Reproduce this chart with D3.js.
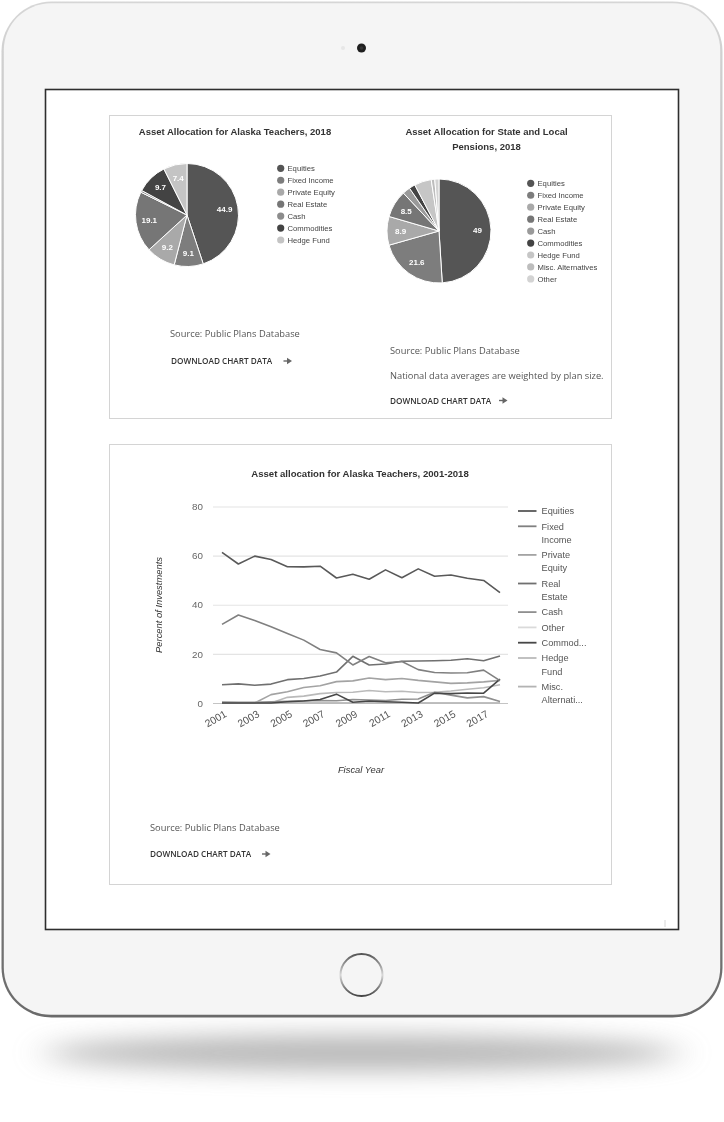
<!DOCTYPE html>
<html>
<head>
<meta charset="utf-8">
<script src="https://cdn.jsdelivr.net/npm/d3@7"></script>
<style>
  html, body { margin: 0; padding: 0; background: #fff; }
  svg { display: block; filter: grayscale(1); }
  .chart { font-family: "Liberation Sans", Arial, sans-serif; }
  .note { font-family: "Open Sans", sans-serif; fill: #555; font-size: 9.3px; }
  .dl { font-family: "Open Sans", sans-serif; fill: #333; font-size: 8.2px; font-weight: 600; }
</style>
</head>
<body>
<svg id="page" width="724" height="1122"></svg>
<script>
// --- Data ---
const alaskaLabels = ["Equities", "Fixed Income", "Private Equity", "Real Estate", "Cash", "Commodities", "Hedge Fund"];
const alaskaShares = [44.9, 9.1, 9.2, 19.1, 0.6, 9.7, 7.4];

const nationalLabels = ["Equities", "Fixed Income", "Private Equity", "Real Estate", "Cash", "Commodities", "Hedge Fund", "Misc. Alternatives", "Other"];
const nationalShares = [49, 21.6, 8.9, 8.5, 2.4, 1.9, 5.3, 1.1, 1.3];

const years = [2001, 2002, 2003, 2004, 2005, 2006, 2007, 2008, 2009, 2010, 2011, 2012, 2013, 2014, 2015, 2016, 2017, 2018];
const yearTicks = [2001, 2003, 2005, 2007, 2009, 2011, 2013, 2015, 2017];
const percentTicks = [0, 20, 40, 60, 80];

const equities        = [61.3, 56.6, 59.8, 58.4, 55.5, 55.4, 55.7, 50.9, 52.4, 50.4, 54.2, 51.0, 54.6, 51.6, 52.1, 50.8, 49.9, 44.9];
const fixedIncome     = [32.0, 35.8, 33.6, 31.0, 28.3, 25.6, 21.8, 20.4, 15.5, 18.9, 16.4, 16.9, 13.6, 12.4, 12.2, 12.3, 13.4, 9.1];
const privateEquity   = [0, 0, 0, 3.4, 4.6, 6.3, 7.0, 8.7, 9.0, 10.2, 9.5, 10.0, 9.2, 8.6, 8.0, 8.2, 8.6, 9.2];
const realEstate      = [7.4, 7.8, 7.2, 7.7, 9.5, 10.0, 11.0, 12.6, 19.0, 15.5, 15.9, 17.0, 17.1, 17.2, 17.4, 18.0, 17.2, 19.1];
const cash            = [0.4, 0.3, 0.3, 0.5, 0.7, 0.9, 1.0, 0.9, 1.4, 1.2, 1.0, 1.5, 1.6, 4.4, 3.2, 2.1, 2.6, 0.6];
const other           = [0, 0, 0, 0, 0, 0, 0, 0, 0, 0, 0, 0, 0, 0, 0, 0, 0, 0];
const commodities     = [0, 0, 0, 0, 0.5, 0.8, 1.4, 3.6, 0.3, 0.8, 0.5, 0.3, 0, 4.0, 3.8, 4.1, 4.0, 9.7];
const hedgeFund       = [0, 0, 0, 0, 2.3, 2.8, 3.8, 4.3, 4.4, 5.1, 4.6, 4.8, 4.3, 4.4, 4.9, 5.6, 6.2, 7.4];
const miscAlternatives = [0, 0, 0, 0, 0, 0, 0, 0, 0, 0, 0, 0, 0, 0, 0, 0, 0, 0];

const seriesNames = ["Equities", "Fixed Income", "Private Equity", "Real Estate", "Cash", "Other", "Commodities", "Hedge Fund", "Misc. Alternatives"];
const seriesLegend = [["Equities"], ["Fixed", "Income"], ["Private", "Equity"], ["Real", "Estate"], ["Cash"], ["Other"], ["Commod..."], ["Hedge", "Fund"], ["Misc.", "Alternati..."]];
const seriesValues = [equities, fixedIncome, privateEquity, realEstate, cash, other, commodities, hedgeFund, miscAlternatives];

// --- Styles ---
const alaskaColors = ["#555555", "#7d7d7d", "#a9a9a9", "#767676", "#8c8c8c", "#434343", "#c4c4c4"];
const nationalColors = ["#555555", "#7d7d7d", "#a9a9a9", "#767676", "#9a9a9a", "#434343", "#c6c6c6", "#bdbdbd", "#d3d3d3"];
const lineColors = ["#595959", "#808080", "#a3a3a3", "#707070", "#8f8f8f", "#dadada", "#474747", "#bababa", "#b3b3b3"];

const svg = d3.select("#page");
const defs = svg.append("defs");

// --- Tablet frame ---
const blur = defs.append("filter").attr("id", "blur").attr("x", "-30%").attr("y", "-300%").attr("width", "160%").attr("height", "700%");
blur.append("feGaussianBlur").attr("stdDeviation", "18 12");

const rim = defs.append("linearGradient").attr("id", "rim").attr("x1", 0).attr("y1", 0).attr("x2", 0).attr("y2", 1);
rim.append("stop").attr("offset", 0).attr("stop-color", "#d4d6d8");
rim.append("stop").attr("offset", 0.5).attr("stop-color", "#a2a2a2");
rim.append("stop").attr("offset", 1).attr("stop-color", "#6a6a6a");

const ring = defs.append("linearGradient").attr("id", "ring").attr("x1", 0).attr("y1", 0).attr("x2", 0).attr("y2", 1);
ring.append("stop").attr("offset", 0).attr("stop-color", "#555");
ring.append("stop").attr("offset", 0.5).attr("stop-color", "#d8d8d8");
ring.append("stop").attr("offset", 1).attr("stop-color", "#444");

svg.append("ellipse")
  .attr("cx", 362).attr("cy", 1053).attr("rx", 318).attr("ry", 18)
  .attr("fill", "#8a8a8a").attr("opacity", 0.6)
  .attr("filter", "url(#blur)");

svg.append("rect")
  .attr("x", 1.5).attr("y", 1.5).attr("width", 721).attr("height", 1016)
  .attr("rx", 50).attr("fill", "url(#rim)");
svg.append("rect")
  .attr("x", 3.8).attr("y", 3.3).attr("width", 716.4).attr("height", 1011.5)
  .attr("rx", 47).attr("fill", "#f4f5f7");

svg.append("circle").attr("cx", 343).attr("cy", 48).attr("r", 2).attr("fill", "#e6e7e9");
svg.append("circle").attr("cx", 361.5).attr("cy", 48).attr("r", 4.5).attr("fill", "#1e1f24");
svg.append("circle").attr("cx", 361.5).attr("cy", 48).attr("r", 1.8).attr("fill", "#2c3550");

svg.append("circle")
  .attr("cx", 361.5).attr("cy", 975).attr("r", 21)
  .attr("fill", "none").attr("stroke", "url(#ring)").attr("stroke-width", 2);

svg.append("rect")
  .attr("x", 45.5).attr("y", 89.5).attr("width", 633).attr("height", 840)
  .attr("fill", "#fff").attr("stroke", "#2e2e2e").attr("stroke-width", 1.6);
svg.append("line").attr("x1", 665).attr("x2", 665).attr("y1", 920).attr("y2", 927)
  .attr("stroke", "#ccc").attr("stroke-width", 0.8);

// --- Panels ---
svg.append("rect").attr("x", 109.5).attr("y", 115.5).attr("width", 502).attr("height", 303)
  .attr("fill", "#fff").attr("stroke", "#d4d4d4");
svg.append("rect").attr("x", 109.5).attr("y", 444.5).attr("width", 502).attr("height", 440)
  .attr("fill", "#fff").attr("stroke", "#d4d4d4");

function arrow(x, y) {
  const g = svg.append("g").attr("transform", `translate(${x},${y - 3})`).attr("fill", "#666").attr("stroke", "#666");
  g.append("line").attr("x1", 0).attr("x2", 5).attr("y1", 0).attr("y2", 0).attr("stroke-width", 1.4);
  g.append("path").attr("d", "M3.5,-3.2 L8.5,0 L3.5,3.2 Z").attr("stroke", "none");
}

function note(x, y, text) {
  svg.append("text").attr("class", "note").attr("x", x).attr("y", y).text(text);
}

function download(x, y, arrowX) {
  svg.append("text").attr("class", "dl").attr("x", x).attr("y", y).text("DOWNLOAD CHART DATA");
  arrow(arrowX, y);
}

// --- Pie charts ---
function drawPie(title, titleX, titleY, labels, values, colors, cx, cy, r, legendX, legendY) {
  const g = svg.append("g").attr("class", "chart");

  title.forEach((t, i) => {
    g.append("text")
      .attr("x", titleX).attr("y", titleY + i * 15.5)
      .attr("text-anchor", "middle")
      .attr("font-size", "9.5px").attr("font-weight", "bold").attr("fill", "#333")
      .text(t);
  });

  const pie = d3.pie().sort(null).value(d => d);
  const arc = d3.arc().innerRadius(0).outerRadius(r);
  const labelArc = d3.arc().innerRadius(r * 0.74).outerRadius(r * 0.74);
  const arcs = pie(values);

  const pg = g.append("g").attr("transform", `translate(${cx},${cy})`);
  pg.selectAll("path")
    .data(arcs)
    .enter()
    .append("path")
    .attr("d", arc)
    .attr("fill", (d, i) => colors[i])
    .attr("stroke", "#fff")
    .attr("stroke-width", 1);

  pg.selectAll("text")
    .data(arcs.filter(d => d.data >= 7))
    .enter()
    .append("text")
    .attr("transform", d => `translate(${labelArc.centroid(d)})`)
    .attr("text-anchor", "middle")
    .attr("dy", "0.35em")
    .attr("font-size", "8px").attr("font-weight", "bold").attr("fill", "#fff")
    .text(d => d.data);

  const lg = g.append("g").attr("transform", `translate(${legendX},${legendY})`);
  labels.forEach((name, i) => {
    lg.append("circle").attr("cx", 0).attr("cy", i * 11.95).attr("r", 3.6).attr("fill", colors[i]);
    lg.append("text").attr("x", 6.8).attr("y", i * 11.95).attr("dy", "0.35em")
      .attr("font-size", "7.7px").attr("fill", "#444").text(name);
  });
}

drawPie(["Asset Allocation for Alaska Teachers, 2018"], 235, 135,
  alaskaLabels, alaskaShares, alaskaColors, 187, 215, 51.5, 280.7, 168.3);
drawPie(["Asset Allocation for State and Local", "Pensions, 2018"], 486.5, 134.5,
  nationalLabels, nationalShares, nationalColors, 439, 231, 52, 530.7, 183.3);

note(170, 337, "Source: Public Plans Database");
download(171, 364, 283.5);
note(390, 353.5, "Source: Public Plans Database");
note(390, 378.5, "National data averages are weighted by plan size.");
download(390, 403.5, 499);

// --- Line chart ---
const lc = svg.append("g").attr("class", "chart");
const plotLeft = 213, plotRight = 508;

const x = d3.scaleLinear().domain([years[0], years[years.length - 1]]).range([222, 500]);
const y = d3.scaleLinear().domain([0, 80]).range([703, 506.5]);

lc.append("text")
  .attr("x", 360).attr("y", 477)
  .attr("text-anchor", "middle")
  .attr("font-size", "9.6px").attr("font-weight", "bold").attr("fill", "#333")
  .text("Asset allocation for Alaska Teachers, 2001-2018");

const yAxis = d3.axisLeft(y).tickValues(percentTicks).tickSize(-(plotRight - plotLeft)).tickPadding(10);
const yG = lc.append("g").attr("transform", `translate(${plotLeft},0)`).call(yAxis);
yG.select(".domain").remove();
yG.selectAll(".tick line").attr("stroke", d => d === 0 ? "#c4c4c4" : "#e4e4e4").attr("stroke-width", 1.2);
yG.selectAll(".tick text").attr("font-family", "Liberation Sans, Arial, sans-serif")
  .attr("font-size", "9.8px").attr("fill", "#666");

const xAxis = d3.axisBottom(x).tickValues(yearTicks).tickFormat(d3.format("d")).tickSize(0);
const xG = lc.append("g").attr("transform", "translate(0,703)").call(xAxis);
xG.select(".domain").remove();
xG.selectAll(".tick text")
  .attr("font-family", "Liberation Sans, Arial, sans-serif")
  .attr("font-size", "10.4px").attr("fill", "#555")
  .attr("x", 0).attr("y", 0).attr("dy", 0)
  .attr("text-anchor", "end")
  .attr("transform", "translate(5,13) rotate(-30)");

lc.append("text")
  .attr("transform", "translate(161.5,605) rotate(-90)")
  .attr("text-anchor", "middle")
  .attr("font-size", "9.4px").attr("font-style", "italic").attr("fill", "#333")
  .text("Percent of Investments");

lc.append("text")
  .attr("x", 361).attr("y", 773)
  .attr("text-anchor", "middle")
  .attr("font-size", "9.4px").attr("font-style", "italic").attr("fill", "#333")
  .text("Fiscal Year");

const line = d3.line().x((d, i) => x(years[i])).y(d => y(d));
const drawOrder = [5, 8, 7, 4, 2, 6, 3, 1, 0];
drawOrder.forEach(i => {
  lc.append("path")
    .datum(seriesValues[i])
    .attr("fill", "none")
    .attr("stroke", lineColors[i])
    .attr("stroke-width", 1.6)
    .attr("stroke-linejoin", "round")
    .attr("d", line);
});

// legend
let ly = 511;
seriesLegend.forEach((lines, i) => {
  lc.append("line").attr("x1", 518).attr("x2", 536.5).attr("y1", ly).attr("y2", ly)
    .attr("stroke", lineColors[i]).attr("stroke-width", 1.8);
  lines.forEach((t, j) => {
    lc.append("text").attr("x", 541.5).attr("y", ly + j * 13.3).attr("dy", "0.35em")
      .attr("font-size", "9.2px").attr("fill", "#555").text(t);
  });
  ly += 15.3 + (lines.length - 1) * 13.3;
});

note(150, 831, "Source: Public Plans Database");
download(150, 857, 262);
</script>
</body>
</html>
